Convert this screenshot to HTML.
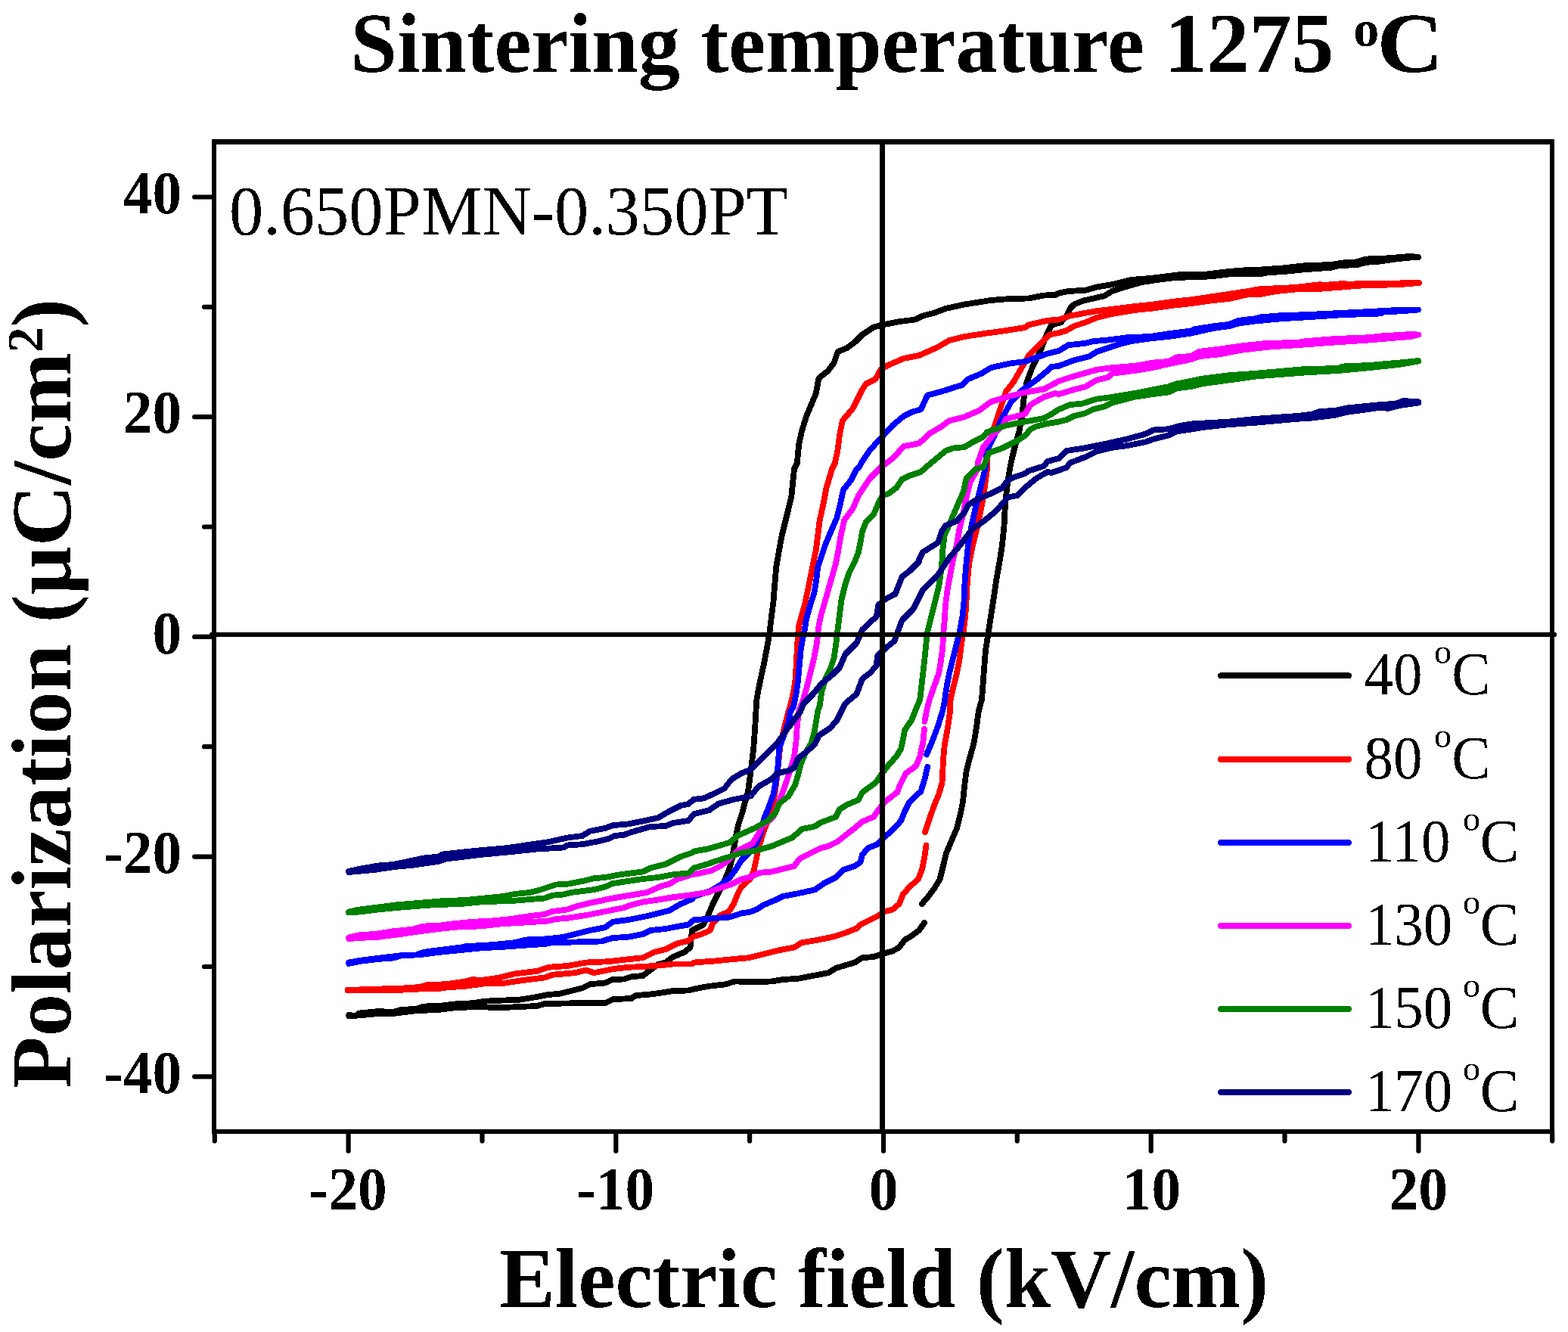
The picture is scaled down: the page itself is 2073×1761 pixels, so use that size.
<!DOCTYPE html>
<html lang="en">
<head>
<meta charset="utf-8">
<title>Sintering temperature 1275 C - polarization vs electric field</title>
<style>html,body{margin:0;padding:0;background:#fff;overflow:hidden;}svg{display:block;}</style>
</head>
<body>
<svg width="2073" height="1761" viewBox="0 0 2073 1761" role="img" aria-label="P-E hysteresis loops of 0.650PMN-0.350PT sintered at 1275 C">
<defs><filter id="crisp" x="-5%" y="-5%" width="110%" height="110%" color-interpolation-filters="sRGB"><feComponentTransfer><feFuncA type="discrete" tableValues="0 0 1 1"/></feComponentTransfer></filter></defs>
<rect x="0" y="0" width="2073" height="1761" fill="#ffffff"/>
<g id="curves" fill="none" stroke-width="7.8" stroke-linejoin="round" stroke-linecap="round" shape-rendering="crispEdges">
<g id="loop-black" stroke="#000000">
<path d="M1875.0,340.0 L1865.0,338.8 L1845.0,340.5 L1825.0,342.0 L1805.0,342.5 L1795.0,346.2 L1775.0,347.5 L1760.0,350.0 L1725.0,351.2 L1695.0,354.5 L1660.0,357.0 L1640.0,357.5 L1615.0,360.0 L1595.0,362.5 L1560.0,363.0 L1540.0,365.5 L1520.0,368.0 L1495.0,370.0 L1470.0,376.2 L1450.0,379.5 L1435.0,383.8 L1412.5,385.0 L1400.0,387.5 L1395.0,390.0 L1380.0,390.5 L1360.0,394.5 L1335.0,395.0 L1310.0,397.0 L1275.0,402.5 L1250.0,408.0 L1235.0,413.8 L1220.0,417.5 L1210.0,422.5 L1190.0,425.0 L1166.2,429.5 L1155.0,432.5 L1140.0,442.5 L1130.0,452.5 L1120.0,460.0 L1107.5,465.0 L1102.5,480.0 L1095.0,490.0 L1082.5,500.0 L1078.8,520.0 L1072.5,535.0 L1066.2,550.0 L1060.0,570.0 L1056.2,587.5 L1053.8,612.5 L1050.0,620.0 L1046.2,657.5 L1040.0,682.5 L1033.8,707.5 L1030.0,727.5 L1026.2,750.0 L1024.5,770.0 L1022.5,795.0 L1020.0,815.0 L1017.0,839.5 L1013.8,857.5 L1010.0,877.5 L1006.2,895.0 L1002.5,912.5 L1000.0,927.5 L999.5,940.0 L998.0,965.0 L996.2,990.0 L993.8,1010.0 L991.2,1030.0 L988.8,1047.5 L985.0,1060.0 L981.2,1075.0 L976.2,1090.0 L973.0,1105.0 L970.5,1120.0 L968.0,1135.0 L963.8,1150.0 L957.5,1165.0 L950.0,1180.0 L942.5,1195.0 L936.2,1210.0 L930.0,1222.5 L915.0,1230.0 L912.5,1252.5 L905.0,1258.8 L890.0,1265.0 L880.0,1272.5 L870.0,1275.0 L860.0,1282.5 L850.0,1290.0 L835.0,1291.2 L825.0,1294.5 L810.0,1295.0 L800.0,1299.5 L780.0,1301.2 L770.0,1306.2 L755.0,1310.0 L740.0,1313.8 L725.0,1315.0 L705.0,1318.8 L685.0,1322.0 L665.0,1322.5 L640.0,1323.8 L625.0,1326.2 L600.0,1327.5 L580.0,1330.0 L560.0,1330.5 L550.0,1333.8 L530.0,1335.0 L520.0,1338.0 L500.0,1337.0 L475.0,1339.5 L470.0,1343.0 L461.2,1342.0"/>
<path d="M461.2,1343.0 L475.0,1342.5 L500.0,1340.0 L520.0,1340.0 L550.0,1336.2 L580.0,1335.0 L600.0,1332.5 L625.0,1331.2 L665.0,1332.0 L710.0,1330.0 L720.0,1327.0 L765.0,1326.2 L800.0,1326.2 L810.0,1321.2 L835.0,1320.0 L840.0,1316.2 L860.0,1314.5 L875.0,1312.5 L890.0,1310.0 L910.0,1309.5 L917.5,1307.5 L937.5,1303.8 L960.0,1301.2 L971.2,1297.5 L1000.0,1298.0 L1020.0,1297.5 L1035.0,1295.0 L1055.0,1293.8 L1075.0,1290.0 L1095.0,1286.2 L1105.0,1280.0 L1117.5,1276.2 L1130.0,1272.5 L1140.0,1266.2 L1155.0,1265.0 L1166.2,1261.2 L1180.0,1257.5 L1188.8,1252.5 L1196.2,1242.5 L1205.0,1237.5 L1215.0,1230.0 L1222.0,1220.0"/>
<path d="M1218.8,1195.0 L1227.5,1185.0 L1235.0,1175.0 L1242.5,1162.5 L1247.5,1142.5 L1251.2,1127.5 L1257.5,1112.5 L1265.0,1095.0 L1270.0,1075.0 L1273.0,1060.0 L1275.0,1040.0 L1277.5,1020.0 L1282.0,1002.5 L1287.5,982.5 L1291.2,960.0 L1293.8,940.0 L1298.0,925.0 L1299.5,905.0 L1301.2,882.5 L1303.0,860.0 L1306.2,839.5 L1310.0,815.0 L1313.8,790.0 L1317.5,765.0 L1322.0,740.0 L1325.0,720.0 L1327.5,695.0 L1328.8,670.0 L1331.2,645.0 L1335.0,620.0 L1337.5,607.5 L1342.5,587.5 L1347.5,570.0 L1351.2,550.0 L1353.8,525.0 L1357.5,505.0 L1365.0,485.0 L1375.0,465.0 L1383.8,442.5 L1390.0,430.0 L1402.5,426.2 L1410.0,417.5 L1415.0,407.5 L1420.0,402.5 L1432.5,397.5 L1460.0,391.2 L1470.0,385.0 L1485.0,380.0 L1510.0,373.0 L1530.0,370.0 L1550.0,367.5 L1575.0,366.2 L1600.0,365.5 L1625.0,362.5 L1650.0,362.0 L1665.0,362.5 L1675.0,360.5 L1700.0,358.8 L1725.0,356.2 L1760.0,353.8 L1770.0,351.2 L1795.0,350.0 L1805.0,347.0 L1825.0,345.5 L1845.0,342.5 L1865.0,340.5 L1875.0,340.0"/>
</g>
<g id="loop-red" stroke="#ff0000">
<path d="M1876.2,374.0 L1865.0,373.5 L1850.0,374.5 L1805.0,374.5 L1785.0,375.8 L1775.0,375.0 L1750.0,377.0 L1745.0,376.2 L1712.5,380.0 L1687.5,381.2 L1662.5,382.5 L1650.0,385.0 L1625.0,388.8 L1600.0,392.5 L1575.0,396.2 L1550.0,398.8 L1525.0,402.5 L1500.0,405.0 L1470.0,408.8 L1450.0,411.2 L1435.0,413.8 L1415.0,417.5 L1400.0,422.5 L1385.0,423.8 L1360.0,429.5 L1355.0,433.0 L1330.0,437.0 L1300.0,441.2 L1275.0,445.0 L1255.0,450.0 L1240.0,458.8 L1215.0,470.0 L1195.0,473.8 L1175.0,482.5 L1165.0,487.5 L1157.5,501.2 L1145.0,507.5 L1140.0,515.0 L1135.0,525.0 L1127.5,540.0 L1113.8,556.2 L1110.0,575.0 L1107.5,595.0 L1103.8,612.5 L1100.0,620.0 L1092.5,645.0 L1088.8,665.0 L1083.8,687.5 L1081.2,707.5 L1078.8,727.5 L1075.0,745.0 L1071.2,765.0 L1067.5,782.5 L1063.8,800.0 L1059.5,815.0 L1056.2,827.5 L1055.0,839.5 L1053.8,857.5 L1052.5,882.5 L1051.2,902.5 L1048.0,920.0 L1043.8,937.5 L1042.5,940.0 L1038.8,955.0 L1035.0,970.0 L1031.2,987.5 L1029.5,1005.0 L1027.5,1025.0 L1025.0,1045.0 L1022.5,1060.0 L1017.5,1080.0 L1011.2,1095.0 L1006.2,1110.0 L1002.5,1122.5 L999.5,1137.5 L996.2,1152.5 L991.2,1162.5 L980.0,1172.5 L975.0,1182.5 L970.0,1195.0 L963.8,1205.0 L952.5,1210.0 L942.5,1220.0 L938.8,1230.0 L927.5,1235.0 L917.5,1238.0 L910.0,1243.8 L895.0,1247.5 L880.0,1255.0 L865.0,1258.8 L850.0,1266.2 L825.0,1268.8 L805.0,1271.2 L775.0,1272.5 L750.0,1277.0 L725.0,1278.8 L710.0,1283.8 L680.0,1287.5 L660.0,1292.5 L635.0,1296.2 L625.0,1295.0 L615.0,1297.5 L590.0,1301.2 L565.0,1302.0 L555.0,1305.0 L525.0,1307.0 L500.0,1307.5 L459.5,1309.0"/>
<path d="M459.5,1309.5 L500.0,1309.5 L525.0,1309.0 L555.0,1307.5 L580.0,1307.0 L590.0,1305.5 L615.0,1303.8 L640.0,1300.5 L665.0,1300.0 L690.0,1296.2 L720.0,1292.5 L730.0,1288.8 L760.0,1286.2 L775.0,1282.5 L785.0,1286.2 L810.0,1281.2 L830.0,1278.8 L850.0,1278.0 L875.0,1276.2 L890.0,1274.5 L915.0,1274.5 L917.5,1272.5 L945.0,1270.5 L970.0,1268.0 L990.0,1266.2 L1010.0,1261.2 L1030.0,1256.2 L1050.0,1252.5 L1060.0,1246.2 L1075.0,1243.8 L1095.0,1240.0 L1105.0,1237.5 L1120.0,1232.5 L1132.5,1227.5 L1137.5,1222.5 L1147.5,1217.5 L1160.0,1211.2 L1170.0,1205.0 L1180.0,1202.5 L1188.8,1195.0 L1193.8,1182.5 L1202.5,1172.5 L1213.8,1162.5 L1218.8,1150.0 L1222.0,1135.0 L1224.5,1117.5"/>
<path d="M1223.0,1100.0 L1228.8,1082.5 L1235.0,1065.0 L1241.2,1050.0 L1245.5,1035.0 L1247.0,1005.0 L1248.8,985.0 L1252.5,965.0 L1256.2,940.0 L1256.2,927.5 L1260.0,910.0 L1265.0,890.0 L1268.8,870.0 L1271.2,850.0 L1273.8,835.0 L1276.2,815.0 L1277.5,795.0 L1278.8,770.0 L1281.2,745.0 L1286.2,720.0 L1292.5,695.0 L1300.0,657.5 L1305.0,620.0 L1305.0,600.0 L1312.5,570.0 L1320.0,547.5 L1327.5,525.0 L1330.0,517.5 L1340.0,505.0 L1350.0,487.5 L1360.0,470.0 L1375.0,455.0 L1387.5,442.5 L1400.0,440.0 L1410.0,437.0 L1420.0,431.2 L1435.0,426.2 L1450.0,420.0 L1470.0,415.0 L1500.0,410.0 L1525.0,407.5 L1550.0,403.8 L1575.0,401.2 L1600.0,397.5 L1625.0,395.0 L1650.0,389.2 L1665.0,389.2 L1687.5,385.0 L1712.5,382.5 L1745.0,381.8 L1775.0,379.5 L1800.0,377.5 L1850.0,376.2 L1876.2,374.0"/>
</g>
<g id="loop-blue" stroke="#0000ff">
<path d="M1875.0,409.5 L1855.0,409.5 L1825.0,411.2 L1775.0,413.8 L1725.0,416.2 L1695.0,417.0 L1665.0,419.5 L1660.0,421.2 L1637.5,423.8 L1625.0,428.8 L1605.0,431.2 L1580.0,435.0 L1575.0,437.5 L1545.0,441.2 L1520.0,445.0 L1490.0,446.2 L1465.0,449.5 L1445.0,451.2 L1435.0,453.8 L1412.5,456.2 L1400.0,463.8 L1385.0,467.5 L1355.0,478.0 L1335.0,480.5 L1310.0,486.2 L1297.5,493.8 L1280.0,501.2 L1272.5,508.8 L1245.0,517.5 L1226.2,522.5 L1217.5,541.2 L1205.0,545.0 L1195.0,550.0 L1180.0,562.5 L1165.0,578.8 L1150.0,595.0 L1140.0,610.0 L1135.0,618.8 L1132.5,620.0 L1125.0,635.0 L1115.0,647.5 L1111.2,665.0 L1106.2,685.0 L1097.5,705.0 L1091.2,720.0 L1086.2,735.0 L1081.2,750.0 L1078.8,770.0 L1076.2,785.0 L1071.2,800.0 L1066.2,817.5 L1063.8,832.5 L1061.2,845.0 L1058.8,857.5 L1057.0,877.5 L1055.0,900.0 L1052.5,917.5 L1048.8,935.0 L1045.0,940.0 L1042.5,955.0 L1036.2,972.5 L1030.0,990.0 L1028.8,1010.0 L1026.2,1030.0 L1022.5,1050.0 L1016.2,1067.5 L1010.0,1082.5 L1006.2,1100.0 L1000.0,1115.0 L990.0,1127.5 L980.0,1137.5 L972.5,1150.0 L965.0,1160.0 L952.5,1170.0 L940.0,1177.5 L930.0,1181.2 L917.5,1185.0 L915.0,1188.8 L900.0,1195.0 L885.0,1203.8 L870.0,1207.5 L855.0,1211.2 L830.0,1216.2 L810.0,1218.8 L800.0,1226.2 L780.0,1230.0 L770.0,1232.5 L745.0,1238.8 L725.0,1241.2 L695.0,1242.5 L680.0,1246.2 L650.0,1249.2 L615.0,1251.2 L610.0,1252.5 L580.0,1256.2 L560.0,1258.8 L550.0,1262.5 L530.0,1263.2 L500.0,1266.8 L475.0,1270.0 L461.2,1272.5"/>
<path d="M461.2,1274.0 L475.0,1271.0 L500.0,1268.0 L520.0,1266.5 L530.0,1263.5 L555.0,1262.2 L580.0,1259.0 L610.0,1256.0 L640.0,1253.0 L660.0,1252.2 L690.0,1250.0 L720.0,1248.0 L730.0,1246.2 L760.0,1245.5 L795.0,1244.5 L810.0,1240.0 L830.0,1238.8 L850.0,1235.0 L860.0,1230.0 L880.0,1228.0 L895.0,1225.0 L910.0,1222.5 L917.5,1216.2 L940.0,1214.5 L965.0,1212.5 L980.0,1207.5 L992.5,1205.5 L1000.0,1202.5 L1010.0,1196.2 L1025.0,1190.0 L1035.0,1185.0 L1055.0,1181.2 L1077.5,1176.2 L1090.0,1167.5 L1105.0,1160.0 L1115.0,1150.0 L1130.0,1145.0 L1137.5,1140.0 L1140.0,1130.0 L1147.5,1121.2 L1160.0,1116.2 L1170.0,1106.2 L1182.5,1095.0 L1191.2,1085.0 L1196.2,1072.5 L1202.5,1060.0 L1217.5,1046.2 L1222.5,1030.0 L1226.2,1013.8"/>
<path d="M1225.0,997.5 L1232.5,980.0 L1240.0,960.0 L1246.2,940.0 L1248.8,927.5 L1251.2,910.0 L1255.0,890.0 L1260.0,870.0 L1265.0,850.0 L1268.8,835.0 L1272.5,815.0 L1274.5,795.0 L1275.5,770.0 L1277.5,745.0 L1280.0,720.0 L1284.5,695.0 L1290.0,670.0 L1296.2,645.0 L1302.5,620.0 L1305.0,595.0 L1315.0,575.0 L1325.0,552.5 L1337.5,530.0 L1352.5,515.0 L1370.0,502.5 L1385.0,490.0 L1390.0,485.0 L1400.0,483.8 L1420.0,476.2 L1440.0,471.2 L1450.0,465.0 L1465.0,460.0 L1480.0,455.0 L1495.0,451.2 L1520.0,447.5 L1545.0,445.0 L1575.0,440.5 L1605.0,433.8 L1625.0,431.2 L1637.5,427.5 L1660.0,424.5 L1695.0,421.2 L1725.0,419.5 L1775.0,416.2 L1825.0,414.5 L1830.0,412.5 L1855.0,411.2 L1875.0,409.5"/>
</g>
<g id="loop-mag" stroke="#ff00ff">
<path d="M1875.0,442.5 L1865.0,442.0 L1825.0,444.5 L1810.0,446.2 L1765.0,448.0 L1725.0,451.2 L1715.0,453.0 L1675.0,453.8 L1640.0,457.5 L1615.0,461.2 L1585.0,465.0 L1575.0,470.8 L1555.0,472.5 L1545.0,478.0 L1525.0,479.5 L1500.0,483.8 L1470.0,486.2 L1450.0,488.8 L1415.0,498.8 L1400.0,503.8 L1380.0,514.5 L1355.0,518.8 L1335.0,523.8 L1310.0,531.2 L1295.0,542.5 L1275.0,551.2 L1255.0,556.2 L1245.0,563.8 L1230.0,572.5 L1215.0,586.2 L1195.0,590.0 L1180.0,606.2 L1165.0,617.5 L1150.0,632.5 L1140.0,647.5 L1135.0,655.0 L1127.5,672.5 L1116.2,687.5 L1111.2,710.0 L1108.8,725.0 L1105.0,745.0 L1100.0,762.5 L1095.0,780.0 L1090.0,797.5 L1085.0,815.0 L1082.0,830.0 L1080.0,850.0 L1076.2,870.0 L1071.2,890.0 L1066.2,910.0 L1061.2,927.5 L1056.2,940.0 L1053.8,960.0 L1052.5,980.0 L1050.0,1000.0 L1045.0,1017.5 L1040.0,1032.5 L1033.8,1050.0 L1027.5,1067.5 L1022.5,1080.0 L1007.5,1092.5 L1002.5,1102.5 L995.0,1115.0 L975.0,1125.0 L962.5,1137.5 L952.5,1145.0 L940.0,1151.2 L922.5,1155.0 L915.0,1156.2 L895.0,1162.5 L885.0,1168.8 L875.0,1171.2 L855.0,1180.0 L840.0,1182.5 L810.0,1187.5 L780.0,1193.8 L760.0,1198.8 L750.0,1202.5 L730.0,1205.0 L720.0,1208.8 L700.0,1211.2 L675.0,1215.0 L650.0,1217.5 L625.0,1218.8 L600.0,1221.2 L580.0,1223.8 L560.0,1224.5 L545.0,1228.8 L520.0,1231.2 L495.0,1235.0 L475.0,1236.2 L461.2,1239.5"/>
<path d="M461.2,1241.0 L475.0,1240.0 L500.0,1238.8 L520.0,1236.2 L530.0,1235.0 L555.0,1231.2 L585.0,1227.5 L610.0,1225.0 L635.0,1224.5 L665.0,1221.2 L695.0,1219.5 L725.0,1217.5 L735.0,1215.0 L750.0,1213.8 L775.0,1210.0 L800.0,1205.0 L825.0,1200.0 L835.0,1196.2 L850.0,1192.5 L870.0,1189.5 L890.0,1186.2 L915.0,1183.0 L917.5,1182.5 L935.0,1180.0 L952.5,1173.8 L967.5,1168.8 L980.0,1162.5 L990.0,1160.0 L1005.0,1153.8 L1020.0,1152.5 L1035.0,1148.8 L1050.0,1145.0 L1057.5,1135.0 L1070.0,1128.8 L1085.0,1121.2 L1095.0,1118.8 L1107.5,1112.5 L1120.0,1102.5 L1130.0,1095.0 L1140.0,1086.2 L1155.0,1080.0 L1160.0,1072.5 L1170.0,1060.0 L1186.2,1047.5 L1190.0,1037.5 L1197.5,1022.5 L1211.2,1012.5 L1216.2,1000.0 L1220.5,980.0 L1222.0,963.8"/>
<path d="M1222.5,953.8 L1225.0,940.0 L1228.8,925.0 L1235.0,907.5 L1241.2,890.0 L1243.8,875.0 L1246.2,857.5 L1247.0,840.0 L1248.8,820.0 L1250.0,800.0 L1252.5,780.0 L1256.2,760.0 L1260.0,740.0 L1265.0,720.0 L1268.8,697.5 L1273.8,677.5 L1277.5,657.5 L1282.5,637.5 L1292.5,620.0 L1292.5,612.5 L1300.0,591.2 L1315.0,572.5 L1326.2,562.5 L1330.0,553.8 L1355.0,547.5 L1362.5,535.0 L1380.0,525.0 L1395.0,520.0 L1400.0,521.2 L1420.0,515.0 L1435.0,511.2 L1450.0,502.5 L1465.0,498.8 L1470.0,493.8 L1500.0,490.0 L1525.0,485.8 L1545.0,481.2 L1575.0,475.0 L1585.0,471.2 L1615.0,468.0 L1640.0,463.0 L1675.0,458.8 L1715.0,456.2 L1765.0,452.5 L1810.0,449.5 L1865.0,445.0 L1875.0,442.5"/>
</g>
<g id="loop-green" stroke="#008000">
<path d="M1875.0,477.0 L1850.0,479.5 L1810.0,483.0 L1775.0,484.5 L1770.0,487.0 L1725.0,488.0 L1660.0,493.8 L1625.0,496.2 L1590.0,500.5 L1575.0,503.8 L1555.0,507.5 L1545.0,511.2 L1525.0,515.0 L1500.0,520.0 L1470.0,525.0 L1450.0,527.5 L1430.0,533.8 L1415.0,535.0 L1400.0,541.2 L1390.0,547.5 L1380.0,553.0 L1355.0,557.5 L1330.0,562.5 L1305.0,571.2 L1300.0,577.5 L1285.0,585.0 L1275.0,591.2 L1260.0,592.5 L1250.0,596.2 L1227.5,615.0 L1217.5,623.8 L1202.5,628.8 L1192.5,633.8 L1185.0,645.0 L1175.0,652.5 L1167.5,655.0 L1162.5,662.5 L1155.0,680.0 L1145.0,690.0 L1140.0,702.5 L1138.8,710.0 L1135.0,730.0 L1130.0,742.5 L1122.5,757.5 L1117.5,772.5 L1112.5,792.5 L1110.0,812.5 L1107.5,832.5 L1105.5,850.0 L1102.5,870.0 L1097.5,885.0 L1091.2,897.5 L1086.2,915.0 L1083.8,932.5 L1081.2,940.0 L1078.8,955.0 L1076.2,970.0 L1072.5,982.5 L1065.0,995.0 L1058.8,1010.0 L1055.0,1025.0 L1051.2,1037.5 L1042.5,1052.5 L1030.0,1062.5 L1025.0,1075.0 L1015.0,1085.0 L997.5,1095.0 L975.0,1105.0 L965.0,1113.8 L952.5,1117.5 L935.0,1122.5 L917.5,1125.5 L915.0,1127.5 L900.0,1132.5 L890.0,1137.5 L880.0,1142.5 L860.0,1147.5 L850.0,1152.5 L820.0,1156.2 L800.0,1160.0 L785.0,1161.2 L770.0,1165.0 L750.0,1168.8 L735.0,1169.5 L715.0,1176.2 L700.0,1180.0 L680.0,1182.0 L665.0,1185.0 L640.0,1187.5 L615.0,1190.0 L585.0,1191.2 L555.0,1193.8 L525.0,1196.2 L500.0,1199.5 L475.0,1202.5 L461.2,1205.5"/>
<path d="M461.2,1206.5 L475.0,1205.5 L500.0,1202.5 L525.0,1200.0 L550.0,1198.0 L575.0,1196.2 L610.0,1195.0 L640.0,1192.0 L675.0,1191.2 L695.0,1189.5 L720.0,1187.5 L730.0,1183.8 L745.0,1182.5 L755.0,1180.0 L785.0,1176.2 L800.0,1172.5 L810.0,1168.0 L830.0,1165.0 L850.0,1162.0 L870.0,1160.0 L890.0,1156.2 L910.0,1154.5 L917.5,1147.5 L935.0,1142.5 L945.0,1138.8 L965.0,1132.5 L980.0,1127.5 L997.5,1125.0 L1020.0,1118.8 L1035.0,1112.5 L1047.5,1107.5 L1060.0,1096.2 L1077.5,1092.5 L1085.0,1087.5 L1105.0,1080.0 L1110.0,1070.0 L1120.0,1063.8 L1135.0,1057.5 L1140.0,1047.5 L1157.5,1035.0 L1166.2,1022.5 L1175.0,1011.2 L1185.0,1000.0 L1191.2,990.0 L1193.8,977.5 L1196.2,965.0 L1205.0,952.5 L1210.0,940.0 L1216.2,925.0 L1218.0,910.0 L1220.0,892.5 L1222.5,870.0 L1224.5,850.0 L1226.2,835.0 L1231.2,815.0 L1236.2,795.0 L1241.2,775.0 L1245.0,750.0 L1246.2,727.5 L1248.8,707.5 L1257.5,687.5 L1265.0,670.0 L1273.8,650.0 L1277.5,632.5 L1290.0,620.0 L1300.0,617.5 L1307.5,598.8 L1325.0,592.5 L1345.0,582.5 L1355.0,576.2 L1362.5,567.5 L1370.0,563.8 L1385.0,560.0 L1400.0,557.5 L1410.0,555.0 L1420.0,550.0 L1435.0,546.2 L1445.0,541.2 L1460.0,537.5 L1470.0,532.5 L1500.0,524.8 L1525.0,521.0 L1545.0,518.5 L1555.0,513.5 L1575.0,511.0 L1590.0,507.2 L1625.0,502.5 L1660.0,497.5 L1725.0,492.5 L1770.0,490.0 L1810.0,486.2 L1850.0,482.0 L1875.0,477.5"/>
</g>
<g id="loop-navy" stroke="#000080">
<path d="M1875.0,531.2 L1855.0,530.0 L1845.0,533.8 L1825.0,535.0 L1780.0,539.5 L1765.0,543.0 L1745.0,543.8 L1735.0,547.5 L1715.0,550.0 L1660.0,553.8 L1625.0,557.5 L1575.0,560.5 L1560.0,563.0 L1545.0,567.2 L1525.0,568.5 L1515.0,573.5 L1490.0,580.5 L1465.0,586.0 L1435.0,592.2 L1410.0,596.0 L1400.0,606.0 L1385.0,610.0 L1380.0,616.2 L1360.0,622.5 L1355.0,626.2 L1340.0,631.2 L1332.5,635.0 L1325.0,645.0 L1310.0,652.5 L1290.0,661.2 L1280.0,667.5 L1275.0,677.5 L1265.0,688.8 L1250.0,695.0 L1245.0,702.5 L1240.0,717.5 L1220.0,730.0 L1215.0,740.2 L1215.0,742.5 L1202.5,755.0 L1192.5,762.5 L1183.8,785.0 L1170.0,792.5 L1161.2,800.0 L1158.8,815.0 L1140.0,832.5 L1132.5,850.0 L1117.5,865.0 L1110.0,882.5 L1100.0,892.5 L1085.0,905.0 L1075.0,917.5 L1062.5,930.0 L1058.0,941.2 L1040.0,965.0 L1027.5,982.5 L1010.0,1000.0 L992.5,1017.5 L980.0,1022.5 L967.5,1030.0 L957.5,1042.5 L942.5,1050.0 L930.0,1055.5 L917.5,1056.8 L910.0,1063.0 L900.0,1065.0 L885.0,1072.5 L870.0,1081.2 L850.0,1085.5 L830.0,1089.5 L810.0,1091.2 L800.0,1095.0 L780.0,1098.8 L770.0,1105.0 L750.0,1107.5 L725.0,1113.2 L695.0,1117.5 L670.0,1121.2 L640.0,1123.8 L615.0,1126.2 L585.0,1129.5 L580.0,1132.5 L560.0,1134.5 L540.0,1138.8 L520.0,1143.0 L500.0,1144.5 L475.0,1148.8 L461.2,1152.0"/>
<path d="M461.2,1153.0 L495.0,1150.0 L520.0,1146.2 L545.0,1143.8 L580.0,1138.8 L590.0,1135.5 L635.0,1130.0 L675.0,1126.2 L710.0,1122.5 L745.0,1120.5 L750.0,1117.5 L770.0,1116.2 L790.0,1112.5 L805.0,1108.8 L812.5,1105.0 L825.0,1103.8 L835.0,1100.0 L860.0,1093.0 L880.0,1092.0 L890.0,1088.0 L910.0,1085.0 L917.5,1076.2 L937.5,1071.2 L950.0,1062.5 L970.0,1057.0 L980.0,1055.0 L992.5,1052.5 L1002.5,1040.0 L1020.0,1030.0 L1027.5,1022.5 L1042.5,1018.8 L1050.0,1015.0 L1055.0,1002.5 L1065.0,995.0 L1077.5,983.8 L1082.5,972.5 L1097.5,962.5 L1106.2,952.5 L1112.5,940.0 L1117.5,930.0 L1132.5,917.5 L1140.0,897.5 L1150.0,890.0 L1158.8,880.0 L1160.0,867.5 L1170.0,857.5 L1182.5,847.5 L1186.2,837.5 L1192.5,820.0 L1207.5,805.0 L1220.0,780.0 L1240.0,760.0 L1255.0,737.5 L1270.0,720.0 L1285.0,700.0 L1302.5,687.5 L1317.5,675.0 L1332.5,657.5 L1345.0,655.0 L1355.0,645.0 L1370.0,632.5 L1385.0,623.8 L1390.0,625.0 L1400.0,621.8 L1410.0,618.0 L1415.0,611.8 L1435.0,604.2 L1450.0,596.8 L1470.0,591.8 L1490.0,589.2 L1515.0,584.2 L1525.0,580.5 L1545.0,575.5 L1555.0,570.5 L1575.0,567.5 L1590.0,565.0 L1625.0,561.2 L1660.0,558.8 L1715.0,553.8 L1735.0,552.5 L1765.0,548.8 L1780.0,545.0 L1825.0,538.8 L1835.0,540.0 L1850.0,536.2 L1875.0,532.5"/>
</g>
</g>
<g id="axes" stroke="#000" fill="none" shape-rendering="crispEdges">
<line x1="280.1" y1="838.9" x2="2055" y2="838.9" stroke-width="6" stroke-linecap="round"/>
<line x1="1166.55" y1="184" x2="1166.55" y2="1499" stroke-width="6.9"/>
<line x1="280.1" y1="187.45" x2="2055" y2="187.45" stroke-width="6.9"/>
<line x1="280.1" y1="1496.0" x2="2055" y2="1496.0" stroke-width="6"/>
<line x1="283.0" y1="184" x2="283.0" y2="1499" stroke-width="5.8"/>
<line x1="2052.2" y1="184" x2="2052.2" y2="1499" stroke-width="5.7"/>
</g>
<g id="ticks" stroke="#000" stroke-width="6.2" stroke-linecap="round">
<line x1="257.1" y1="1423.3" x2="283.0" y2="1423.3"/>
<line x1="270.0" y1="1278.0" x2="283.0" y2="1278.0"/>
<line x1="257.1" y1="1132.6" x2="283.0" y2="1132.6"/>
<line x1="270.0" y1="987.2" x2="283.0" y2="987.2"/>
<line x1="257.1" y1="841.9" x2="283.0" y2="841.9"/>
<line x1="270.0" y1="696.5" x2="283.0" y2="696.5"/>
<line x1="257.1" y1="551.2" x2="283.0" y2="551.2"/>
<line x1="270.0" y1="405.8" x2="283.0" y2="405.8"/>
<line x1="257.1" y1="260.5" x2="283.0" y2="260.5"/>
<line x1="283.8" y1="1496.0" x2="283.8" y2="1508.5"/>
<line x1="460.6" y1="1496.0" x2="460.6" y2="1521.7"/>
<line x1="637.5" y1="1496.0" x2="637.5" y2="1508.5"/>
<line x1="814.3" y1="1496.0" x2="814.3" y2="1521.7"/>
<line x1="991.1" y1="1496.0" x2="991.1" y2="1508.5"/>
<line x1="1168.0" y1="1496.0" x2="1168.0" y2="1521.7"/>
<line x1="1344.8" y1="1496.0" x2="1344.8" y2="1508.5"/>
<line x1="1521.7" y1="1496.0" x2="1521.7" y2="1521.7"/>
<line x1="1698.5" y1="1496.0" x2="1698.5" y2="1508.5"/>
<line x1="1875.4" y1="1496.0" x2="1875.4" y2="1521.7"/>
<line x1="2052.2" y1="1496.0" x2="2052.2" y2="1508.5"/>
</g>
<g id="labels" filter="url(#crisp)">
<text transform="translate(240.3,282.0) scale(0.968,1)" font-family="'Liberation Serif', 'Times New Roman', Times, serif" font-weight="bold" font-size="80.0px" text-anchor="end" fill="#000">40</text>
<text transform="translate(240.3,572.3) scale(0.968,1)" font-family="'Liberation Serif', 'Times New Roman', Times, serif" font-weight="bold" font-size="80.0px" text-anchor="end" fill="#000">20</text>
<text transform="translate(240.3,863.6) scale(0.968,1)" font-family="'Liberation Serif', 'Times New Roman', Times, serif" font-weight="bold" font-size="80.0px" text-anchor="end" fill="#000">0</text>
<text transform="translate(240.3,1153.9) scale(0.968,1)" font-family="'Liberation Serif', 'Times New Roman', Times, serif" font-weight="bold" font-size="80.0px" text-anchor="end" fill="#000">-20</text>
<text transform="translate(240.3,1444.9) scale(0.968,1)" font-family="'Liberation Serif', 'Times New Roman', Times, serif" font-weight="bold" font-size="80.0px" text-anchor="end" fill="#000">-40</text>
<text transform="translate(460.0,1598.8) scale(0.968,1)" font-family="'Liberation Serif', 'Times New Roman', Times, serif" font-weight="bold" font-size="80.0px" text-anchor="middle" fill="#000">-20</text>
<text transform="translate(813.5,1598.8) scale(0.968,1)" font-family="'Liberation Serif', 'Times New Roman', Times, serif" font-weight="bold" font-size="80.0px" text-anchor="middle" fill="#000">-10</text>
<text transform="translate(1168.0,1598.8) scale(0.968,1)" font-family="'Liberation Serif', 'Times New Roman', Times, serif" font-weight="bold" font-size="80.0px" text-anchor="middle" fill="#000">0</text>
<text transform="translate(1522.5,1598.8) scale(0.968,1)" font-family="'Liberation Serif', 'Times New Roman', Times, serif" font-weight="bold" font-size="80.0px" text-anchor="middle" fill="#000">10</text>
<text transform="translate(1875.2,1598.8) scale(0.968,1)" font-family="'Liberation Serif', 'Times New Roman', Times, serif" font-weight="bold" font-size="80.0px" text-anchor="middle" fill="#000">20</text>
<text transform="translate(463.4,94.9) scale(0.977,1)" font-family="'Liberation Serif', 'Times New Roman', Times, serif" font-weight="bold" font-size="113.0px" fill="#000">Sintering temperature</text>
<text transform="translate(1539.5,94.9)" font-family="'Liberation Serif', 'Times New Roman', Times, serif" font-weight="bold" font-size="113.0px" fill="#000" textLength="224" lengthAdjust="spacingAndGlyphs">1275</text>
<text transform="translate(1789.2,60.6)" font-family="'Liberation Serif', 'Times New Roman', Times, serif" font-weight="bold" font-size="68px" fill="#000">o</text>
<text transform="translate(1820.2,94.9)" font-family="'Liberation Serif', 'Times New Roman', Times, serif" font-weight="bold" font-size="113.0px" fill="#000" textLength="88" lengthAdjust="spacingAndGlyphs">C</text>
<text transform="translate(660.3,1727.6) scale(0.9884,1)" font-family="'Liberation Serif', 'Times New Roman', Times, serif" font-weight="bold" font-size="111.6px" fill="#000">Electric field (kV/cm)</text>
<text transform="translate(93.1,1439.0) rotate(-90) scale(1.0,1)" font-family="'Liberation Serif', 'Times New Roman', Times, serif" font-weight="bold" font-size="112.5px" fill="#000">Polarization (μC/cm<tspan font-size="67px" dy="-37.5">2</tspan><tspan dy="37.5">)</tspan></text>
<text transform="translate(303.0,309.7) scale(0.9816,1)" font-family="'Liberation Serif', 'Times New Roman', Times, serif" font-size="92.2px" fill="#000">0.650PMN-0.350PT</text>
</g>
<g id="legend">
<line x1="1614" y1="893.3" x2="1783" y2="893.3" stroke="#000000" stroke-width="8" stroke-linecap="round" shape-rendering="crispEdges"/>
<text transform="translate(1803.4,918.3) scale(0.9673,1)" font-family="'Liberation Serif', 'Times New Roman', Times, serif" font-size="79.6px" fill="#000" filter="url(#crisp)">40</text>
<text transform="translate(1896.0,877.3) scale(0.9684,1)" font-family="'Liberation Serif', 'Times New Roman', Times, serif" font-size="47.5px" fill="#000" filter="url(#crisp)">o</text>
<text transform="translate(1919.3,918.3) scale(0.9673,1)" font-family="'Liberation Serif', 'Times New Roman', Times, serif" font-size="79.6px" fill="#000" filter="url(#crisp)">C</text>
<line x1="1614" y1="1003.8" x2="1783" y2="1003.8" stroke="#ff0000" stroke-width="8" stroke-linecap="round" shape-rendering="crispEdges"/>
<text transform="translate(1803.4,1028.8) scale(0.9673,1)" font-family="'Liberation Serif', 'Times New Roman', Times, serif" font-size="79.6px" fill="#000" filter="url(#crisp)">80</text>
<text transform="translate(1896.0,987.8) scale(0.9684,1)" font-family="'Liberation Serif', 'Times New Roman', Times, serif" font-size="47.5px" fill="#000" filter="url(#crisp)">o</text>
<text transform="translate(1919.3,1028.8) scale(0.9673,1)" font-family="'Liberation Serif', 'Times New Roman', Times, serif" font-size="79.6px" fill="#000" filter="url(#crisp)">C</text>
<line x1="1614" y1="1113.9" x2="1783" y2="1113.9" stroke="#0000ff" stroke-width="8" stroke-linecap="round" shape-rendering="crispEdges"/>
<text transform="translate(1804.8,1138.9) scale(0.9673,1)" font-family="'Liberation Serif', 'Times New Roman', Times, serif" font-size="79.6px" fill="#000" filter="url(#crisp)">110</text>
<text transform="translate(1934.0,1097.9) scale(0.9684,1)" font-family="'Liberation Serif', 'Times New Roman', Times, serif" font-size="47.5px" fill="#000" filter="url(#crisp)">o</text>
<text transform="translate(1956.8,1138.9) scale(0.9673,1)" font-family="'Liberation Serif', 'Times New Roman', Times, serif" font-size="79.6px" fill="#000" filter="url(#crisp)">C</text>
<line x1="1614" y1="1224.0" x2="1783" y2="1224.0" stroke="#ff00ff" stroke-width="8" stroke-linecap="round" shape-rendering="crispEdges"/>
<text transform="translate(1804.8,1249.0) scale(0.9673,1)" font-family="'Liberation Serif', 'Times New Roman', Times, serif" font-size="79.6px" fill="#000" filter="url(#crisp)">130</text>
<text transform="translate(1934.0,1208.0) scale(0.9684,1)" font-family="'Liberation Serif', 'Times New Roman', Times, serif" font-size="47.5px" fill="#000" filter="url(#crisp)">o</text>
<text transform="translate(1956.8,1249.0) scale(0.9673,1)" font-family="'Liberation Serif', 'Times New Roman', Times, serif" font-size="79.6px" fill="#000" filter="url(#crisp)">C</text>
<line x1="1614" y1="1334.2" x2="1783" y2="1334.2" stroke="#008000" stroke-width="8" stroke-linecap="round" shape-rendering="crispEdges"/>
<text transform="translate(1804.8,1359.2) scale(0.9673,1)" font-family="'Liberation Serif', 'Times New Roman', Times, serif" font-size="79.6px" fill="#000" filter="url(#crisp)">150</text>
<text transform="translate(1934.0,1318.2) scale(0.9684,1)" font-family="'Liberation Serif', 'Times New Roman', Times, serif" font-size="47.5px" fill="#000" filter="url(#crisp)">o</text>
<text transform="translate(1956.8,1359.2) scale(0.9673,1)" font-family="'Liberation Serif', 'Times New Roman', Times, serif" font-size="79.6px" fill="#000" filter="url(#crisp)">C</text>
<line x1="1614" y1="1444.2" x2="1783" y2="1444.2" stroke="#000080" stroke-width="8" stroke-linecap="round" shape-rendering="crispEdges"/>
<text transform="translate(1804.8,1469.2) scale(0.9673,1)" font-family="'Liberation Serif', 'Times New Roman', Times, serif" font-size="79.6px" fill="#000" filter="url(#crisp)">170</text>
<text transform="translate(1934.0,1428.2) scale(0.9684,1)" font-family="'Liberation Serif', 'Times New Roman', Times, serif" font-size="47.5px" fill="#000" filter="url(#crisp)">o</text>
<text transform="translate(1956.8,1469.2) scale(0.9673,1)" font-family="'Liberation Serif', 'Times New Roman', Times, serif" font-size="79.6px" fill="#000" filter="url(#crisp)">C</text>
</g>
</svg>
</body>
</html>
